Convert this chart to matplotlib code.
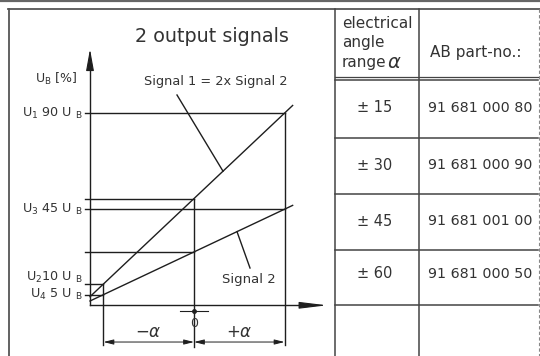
import numpy as np
import matplotlib.pyplot as plt

# chart data (alpha in units of the angle range, U in % of U_B)
alpha_pts = [-1, 1]
signal1 = [10, 90]
signal2 = [5, 45]
level_labels = [(r"U$_1$ 90 U $_{\rm B}$", 90), (r"U$_3$ 45 U $_{\rm B}$", 45),
                (r"U$_2$10 U $_{\rm B}$", 13), (r"U$_4$ 5 U $_{\rm B}$", 5)]

# table data
ranges = ["± 15", "± 30", "± 45", "± 60"]
part_nos = ["91 681 000 80", "91 681 000 90", "91 681 001 00", "91 681 000 50"]
row_lines = [79.5, 138, 194, 250, 305]

plt.rcParams['font.family'] = ['DejaVu Sans']
txt = '#333333'
ln = '#1e1e1e'

fig = plt.figure(figsize=(5.4, 3.56), dpi=100)

# frame / table axes in pixel coordinates
fax = fig.add_axes([0, 0, 1, 1])
fax.set_xlim(0, 540)
fax.set_ylim(356, 0)
fax.axis('off')

fax.plot([0, 540], [1.2, 1.2], color='#666666', lw=1.6)
fax.plot([8, 540], [8.5, 8.5], color='#555555', lw=1.3)
fax.plot([8.5, 8.5], [8.5, 356], color='#555555', lw=1.3)
fax.plot([538.5, 538.5], [8.5, 356], color='#888888', lw=0.8, ls=(0, (3, 2)))
fax.plot([334.5, 334.5], [8.5, 356], color='#444444', lw=1.1)
fax.plot([419, 419], [8.5, 356], color='#444444', lw=1.1)
fax.plot([334.5, 538], [76.5, 76.5], color='#444444', lw=0.9)
for yy in row_lines:
    fax.plot([334.5, 538], [yy, yy], color='#444444', lw=1.1)

fax.text(342, 23, "electrical", fontsize=11, color=txt, va='center', ha='left')
fax.text(342, 43, "angle", fontsize=11, color=txt, va='center', ha='left')
fax.text(342, 63, "range", fontsize=11, color=txt, va='center', ha='left')
fax.text(387, 62, "$\\alpha$", fontsize=14, color=txt, va='center', ha='left')
fax.text(476, 52, "AB part-no.:", fontsize=11, color=txt, va='center', ha='center')
for i in range(len(ranges)):
    yc = (row_lines[i] + row_lines[i + 1]) / 2 - 1
    if i == 3:
        yc -= 3
    fax.text(375, yc, ranges[i], fontsize=10.5, color=txt, va='center', ha='center')
    fax.text(480, yc, part_nos[i], fontsize=10.3, color=txt, va='center', ha='center')

fax.text(212, 37, "2 output signals", fontsize=13.8, color=txt, va='center', ha='center')

# chart axes: alpha / percent mapped onto the drawing
px0, pxa = 194, 90.5
py0, pyu = 305.3, 2.135
ax = fig.add_axes([0, 0, 1, 1], facecolor='none')
ax.set_xlim(-px0 / pxa, (540 - px0) / pxa)
ax.set_ylim((py0 - 356) / pyu, py0 / pyu)
ax.axis('off')

a_left = (90 - px0) / pxa
a_lab = (85 - px0) / pxa

# axes with arrows
ax.plot([a_left, a_left], [0, 112], color=ln, lw=1.0)
ax.annotate('', xy=(a_left, 120), xytext=(a_left, 110),
            arrowprops=dict(arrowstyle='-|>,head_length=1.1,head_width=0.2', color=ln,
                            lw=0.8, mutation_scale=12, shrinkA=0, shrinkB=0))
ax.plot([a_left, 1.25], [0, 0], color=ln, lw=1.0)
ax.annotate('', xy=(1.47, 0), xytext=(1.25, 0),
            arrowprops=dict(arrowstyle='-|>,head_length=1.4,head_width=0.17', color=ln,
                            lw=0.8, mutation_scale=12, shrinkA=0, shrinkB=0))

# signal lines, extended a little beyond the range
s1 = np.polyfit(alpha_pts, signal1, 1)
s2 = np.polyfit(alpha_pts, signal2, 1)
ext = np.array([a_left, 1.09])
ax.plot(ext, np.polyval(s1, ext), color=ln, lw=1.0)
ax.plot(ext, np.polyval(s2, ext), color=ln, lw=1.0)

# reference lines
ax.plot([a_lab, alpha_pts[1]], [signal1[1], signal1[1]], color=ln, lw=1.0)
ax.plot([a_lab, alpha_pts[1]], [signal2[1], signal2[1]], color=ln, lw=1.0)
ax.plot([a_lab, 0], [np.polyval(s1, 0)] * 2, color=ln, lw=1.0)
ax.plot([a_lab, 0], [np.polyval(s2, 0)] * 2, color=ln, lw=1.0)
ax.plot([a_lab, alpha_pts[0]], [signal1[0]] * 2, color=ln, lw=1.0)
ax.plot([a_lab, alpha_pts[0]], [signal2[0]] * 2, color=ln, lw=1.0)

# vertical extension lines
ax.plot([1, 1], [signal1[1], -18.5], color=ln, lw=1.0)
ax.plot([0, 0], [np.polyval(s1, 0), -19.5], color=ln, lw=1.0)
ax.plot([-1, -1], [signal1[0], -18.5], color=ln, lw=1.0)

# dimension lines
for a, b in [(-1, 0), (0, 1)]:
    ax.annotate('', xy=(a, -17.2), xytext=(b, -17.2),
                arrowprops=dict(arrowstyle='<|-|>,head_length=0.6,head_width=0.15', color=ln,
                                lw=0.7, mutation_scale=10, shrinkA=0, shrinkB=0))
ax.plot([-0.155, 0.155], [-2.7, -2.7], color=ln, lw=0.8)
ax.plot([0], [-2.7], 'o', color=ln, ms=2.5)
ax.text(0, -8.3, "0", fontsize=9, color=txt, ha='center', va='center')
ax.text(-0.5, -12.5, "$-\\alpha$", fontsize=12, color=txt, ha='center', va='center')
ax.text(0.5, -12.5, "$+\\alpha$", fontsize=12, color=txt, ha='center', va='center')

# level labels
for lab, u in level_labels:
    ax.text((83 - px0) / pxa, u, lab, fontsize=9.2, color=txt, ha='right', va='center')
ax.text((35 - px0) / pxa, (py0 - 79) / pyu, r"U$_{\rm B}$ [%]", fontsize=9, color=txt,
        ha='left', va='center')

# signal annotations
ax.text((216 - px0) / pxa, (py0 - 82) / pyu, "Signal 1 = 2x Signal 2", fontsize=9.3,
        color=txt, ha='center', va='center')
a1 = (223 - px0) / pxa
ax.plot([(177 - px0) / pxa, a1], [(py0 - 95) / pyu, np.polyval(s1, a1)], color=ln, lw=1.0)
ax.text((249 - px0) / pxa, (py0 - 280) / pyu, "Signal 2", fontsize=9.5,
        color=txt, ha='center', va='center')
a2 = (237 - px0) / pxa
ax.plot([a2, (250 - px0) / pxa], [np.polyval(s2, a2), (py0 - 268) / pyu], color=ln, lw=1.0)

fig.savefig('out.png', dpi=100)
